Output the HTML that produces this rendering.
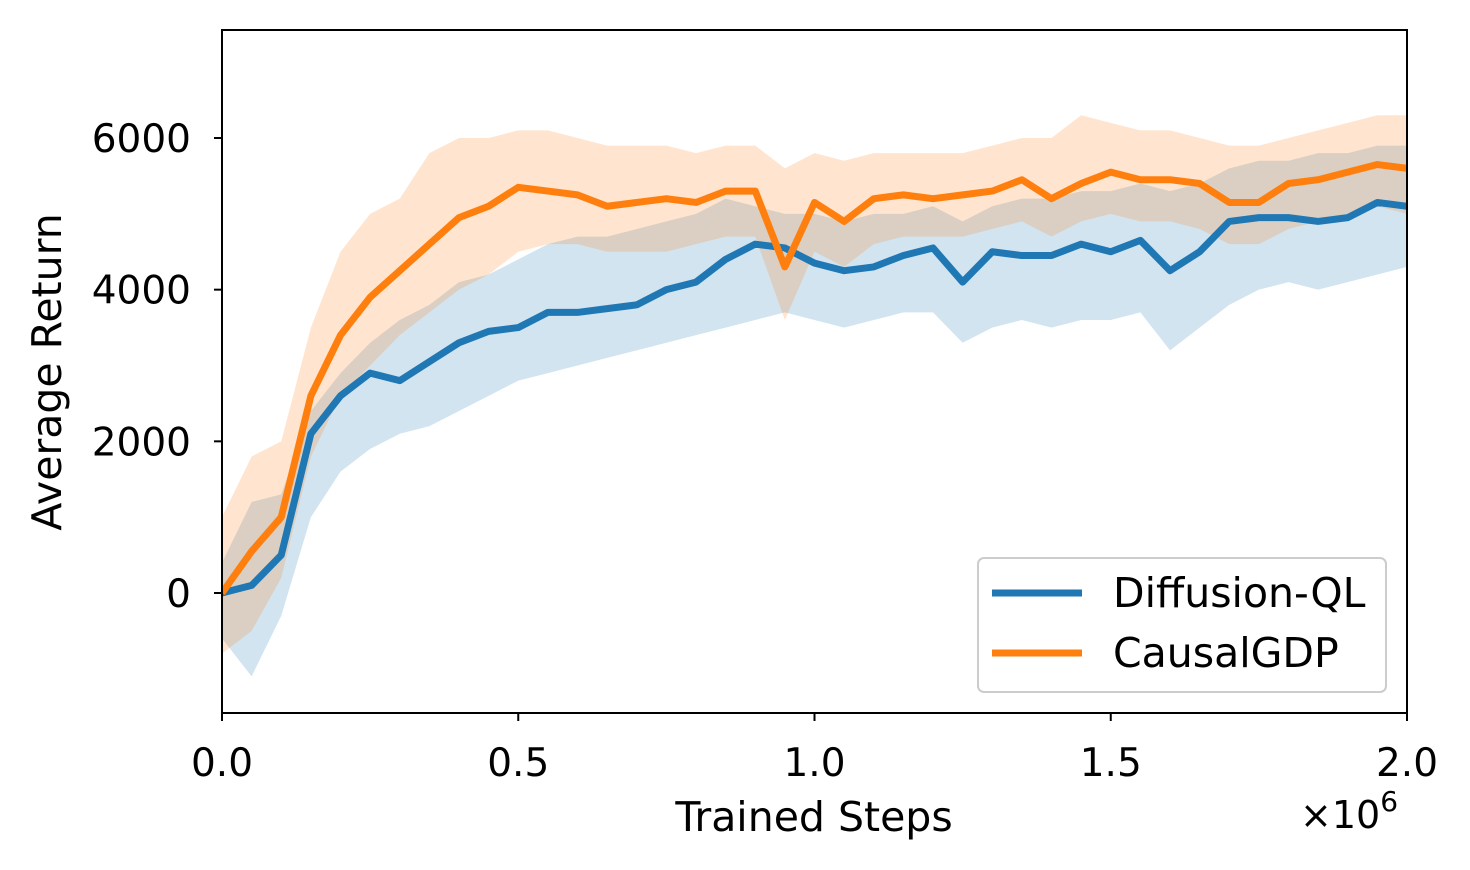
<!DOCTYPE html>
<html><head><meta charset="utf-8"><style>
body{margin:0;background:#fff;}
svg{display:block;font-family:"DejaVu Sans","Liberation Sans",sans-serif;}
</style></head><body>
<svg id="chart" width="1470" height="870" viewBox="0 0 1470 870" xmlns="http://www.w3.org/2000/svg">
<rect width="1470" height="870" fill="#fff"/>
<defs><clipPath id="clip"><rect x="222" y="30" width="1185" height="683"/></clipPath></defs>
<g id="bands" clip-path="url(#clip)"></g>
<g id="lines" clip-path="url(#clip)"></g>
<rect x="222" y="30" width="1185" height="683" fill="none" stroke="#000" stroke-width="2"/>
<g id="axes"></g>
<text x="814" y="831" font-size="41" text-anchor="middle">Trained Steps</text>
<text x="1300" y="828" font-size="38">×10<tspan dy="-17" font-size="28">6</tspan></text>
<text transform="translate(61,372) rotate(-90)" font-size="41" text-anchor="middle">Average Return</text>
<g>
<rect x="978" y="558" width="408" height="134" rx="6" fill="#fff" fill-opacity="0.8" stroke="#ccc" stroke-width="2"/>
<line x1="992" y1="593" x2="1082" y2="593" stroke="#1f77b4" stroke-width="7"/>
<text x="1113" y="607" font-size="41">Diffusion-QL</text>
<line x1="992" y1="653" x2="1082" y2="653" stroke="#ff7f0e" stroke-width="7"/>
<text x="1113" y="667" font-size="41">CausalGDP</text>
</g>
</svg>
<script>
const steps=[0,0.05,0.1,0.15,0.2,0.25,0.3,0.35,0.4,0.45,0.5,0.55,0.6,0.65,0.7,0.75,0.8,0.85,0.9,0.95,1.0,1.05,1.1,1.15,1.2,1.25,1.3,1.35,1.4,1.45,1.5,1.55,1.6,1.65,1.7,1.75,1.8,1.85,1.9,1.95,2.0];
const blueMean=[0,100,500,2100,2600,2900,2800,3050,3300,3450,3500,3700,3700,3750,3800,4000,4100,4400,4600,4550,4350,4250,4300,4450,4550,4100,4500,4450,4450,4600,4500,4650,4250,4500,4900,4950,4950,4900,4950,5150,5100];
const blueUpper=[400,1200,1300,2400,2900,3300,3600,3800,4100,4200,4400,4600,4700,4700,4800,4900,5000,5200,5100,5000,5000,4900,5000,5000,5100,4900,5100,5200,5200,5300,5300,5400,5300,5400,5600,5700,5700,5800,5800,5900,5900];
const blueLower=[-600,-1100,-300,1000,1600,1900,2100,2200,2400,2600,2800,2900,3000,3100,3200,3300,3400,3500,3600,3700,3600,3500,3600,3700,3700,3300,3500,3600,3500,3600,3600,3700,3200,3500,3800,4000,4100,4000,4100,4200,4300];
const orangeMean=[0,550,1000,2600,3400,3900,4250,4600,4950,5100,5350,5300,5250,5100,5150,5200,5150,5300,5300,4300,5150,4900,5200,5250,5200,5250,5300,5450,5200,5400,5550,5450,5450,5400,5150,5150,5400,5450,5550,5650,5600];
const orangeUpper=[1000,1800,2000,3500,4500,5000,5200,5800,6000,6000,6100,6100,6000,5900,5900,5900,5800,5900,5900,5600,5800,5700,5800,5800,5800,5800,5900,6000,6000,6300,6200,6100,6100,6000,5900,5900,6000,6100,6200,6300,6300];
const orangeLower=[-800,-500,200,1800,2600,3000,3400,3700,4000,4200,4500,4600,4600,4500,4500,4500,4600,4700,4700,3600,4500,4300,4600,4700,4700,4700,4800,4900,4700,4900,5000,4900,4900,4800,4600,4600,4800,4900,5000,5100,5000];
const xTicks=[0,0.5,1.0,1.5,2.0];
const xTickLabels=["0.0","0.5","1.0","1.5","2.0"];
const yTicks=[0,2000,4000,6000];
const yTickLabels=["0","2000","4000","6000"];

const NS="http://www.w3.org/2000/svg";
function X(v){return 222+v/2.0*1185;}
function Y(v){return 593-v*(455/6000);}
function mk(tag,attrs,parent){const e=document.createElementNS(NS,tag);for(const k in attrs)e.setAttribute(k,attrs[k]);parent.appendChild(e);return e;}
const bands=document.getElementById('bands'),lines=document.getElementById('lines'),axes=document.getElementById('axes');
function band(lo,hi,color,name){
  let d='M'+steps.map((s,i)=>X(s)+','+Y(hi[i])).join('L');
  for(let i=steps.length-1;i>=0;i--)d+='L'+X(steps[i])+','+Y(lo[i]);
  const p=mk('path',{d:d+'Z',fill:color,'fill-opacity':0.2},bands);
  
  
}
function line(m,color,name){
  const p=mk('path',{d:'M'+steps.map((s,i)=>X(s)+','+Y(m[i])).join('L'),fill:'none',stroke:color,'stroke-width':7,'stroke-linejoin':'round'},lines);
  
  
}
band(blueLower,blueUpper,'#1f77b4','diffusion-ql-band');
band(orangeLower,orangeUpper,'#ff7f0e','causalgdp-band');
line(blueMean,'#1f77b4','diffusion-ql-line');
line(orangeMean,'#ff7f0e','causalgdp-line');
xTicks.forEach((t,i)=>{
  const l=mk('line',{x1:X(t),x2:X(t),y1:713,y2:721,stroke:'#000','stroke-width':2},axes);
  
  
  const tx=mk('text',{x:X(t),y:776,'font-size':39,'text-anchor':'middle'},axes);
  tx.textContent=xTickLabels[i];
  
  
});
yTicks.forEach((t,i)=>{
  const l=mk('line',{x1:214,x2:222,y1:Y(t),y2:Y(t),stroke:'#000','stroke-width':2},axes);
  
  
  const tx=mk('text',{x:191,y:Y(t)+14,'font-size':39,'text-anchor':'end'},axes);
  tx.textContent=yTickLabels[i];
  
  
});
</script>
</body></html>
